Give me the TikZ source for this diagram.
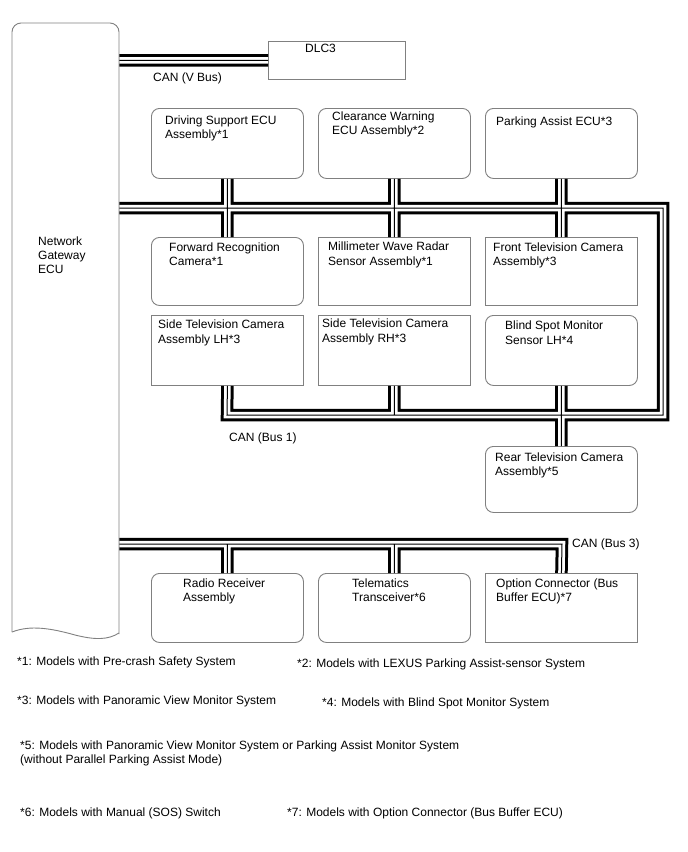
\documentclass[tikz,border=0pt]{standalone}
\usepackage{fontspec}
\setmainfont{Liberation Sans}
\definecolor{boxgray}{HTML}{808080}
\begin{document}
\begin{tikzpicture}[x=1pt,y=-1pt,
  box/.style={draw=boxgray, line width=0.9pt, anchor=north west, inner sep=0pt, minimum width=152pt},
  rbox/.style={box, rounded corners=8pt},
  lbl/.style={anchor=north west, inner sep=0pt, align=left, font=\fontsize{12}{14.5}\selectfont, text=black},
  busA/.style={line width=12.5pt, line join=miter, black},
  busB/.style={line width=6.5pt, line join=miter, white},
  busC/.style={line width=1pt, line join=miter, black}]
\fill[white] (0,0) rectangle (688,852);
\useasboundingbox (0,0) rectangle (688,852);

% gateway
\node[anchor=north west, inner sep=0pt, minimum width=107pt, minimum height=617pt] (gw) at (12,23) {};
\draw[boxgray, line width=0.9pt, rounded corners=9pt] (12,632) -- (12,23) -- (119,23) -- (119,634);
\draw[boxgray, line width=0.9pt] (119,633) .. controls (108,640) and (95,640) .. (75,635)
  .. controls (50,628) and (30,625) .. (12,632);
\node[lbl, font=\fontsize{12}{14}\selectfont] (gwt) at (38,237) {Network\\Gateway\\ECU};

% boxes
\node[box, minimum width=137pt, minimum height=38pt] (dlc) at (268,41) {};
\node[rbox, minimum height=70pt] (ds) at (151,108) {};
\node[rbox, minimum height=70pt] (cw) at (318,108) {};
\node[rbox, minimum height=70pt] (pa) at (485,108) {};
\node[rbox, minimum height=68pt] (fr) at (151,237) {};
\node[box, minimum height=68pt] (mw) at (318,237) {};
\node[box, minimum height=68pt] (ft) at (485,237) {};
\node[box, minimum height=70pt] (sl) at (151,315) {};
\node[box, minimum height=70pt] (sr) at (318,315) {};
\node[rbox, minimum height=70pt] (bs) at (485,315) {};
\node[rbox, minimum height=66pt] (rt) at (485,446) {};
\node[rbox, minimum height=69pt] (rr) at (151,573) {};
\node[rbox, minimum height=69pt] (tm) at (318,573) {};
\node[box, minimum height=69pt] (oc) at (485,573) {};

% bus corner coordinates
\coordinate (b1ne) at (663,208);
\coordinate (b1se) at (663,415);
\coordinate (b1sw) at (227,415);
\coordinate (b3e) at (562,544);

\def\busnet{
  (gw.east |- dlc.west) -- (dlc.west)
  (gw.east |- b1ne) -- (b1ne) -- (b1se) -- (b1sw) -- (sl.south)
  (ds.south) -- (fr.north)
  (cw.south) -- (mw.north)
  (pa.south) -- (ft.north)
  (sr.south) -- (sr.south |- b1se)
  (bs.south) -- (rt.north)
  (gw.east |- b3e) -- (b3e) -- (oc.north)
  (rr.north |- b3e) -- (rr.north)
  (tm.north |- b3e) -- (tm.north)
}
\draw[busA] \busnet;
\draw[busB] \busnet;
\draw[busC] \busnet;

% box texts
\node[lbl] (dlct) at (305,44) {DLC3};
\node[lbl] (dst) at (165,115.5) {Driving Support ECU\\Assembly*1};
\node[lbl] (cwt) at (332,111.5) {Clearance Warning\\ECU Assembly*2};
\node[lbl] (pat) at (496,117) {Parking Assist ECU*3};
\node[lbl] (frt) at (169,242.5) {Forward Recognition\\Camera*1};
\node[lbl] (mwt) at (328,242) {Millimeter Wave Radar\\Sensor Assembly*1};
\node[lbl] (ftt) at (493,242.5) {Front Television Camera\\Assembly*3};
\node[lbl] (slt) at (158,320) {Side Television Camera\\Assembly LH*3};
\node[lbl] (srt) at (322,319) {Side Television Camera\\Assembly RH*3};
\node[lbl] (bst) at (505,321) {Blind Spot Monitor\\Sensor LH*4};
\node[lbl] (rtt) at (495,452.5) {Rear Television Camera\\Assembly*5};
\node[lbl] (rrt) at (183,578.5) {Radio Receiver\\Assembly};
\node[lbl] (tmt) at (352,578.5) {Telematics\\Transceiver*6};
\node[lbl] (oct) at (496,578.5) {Option Connector (Bus\\Buffer ECU)*7};

% bus labels
\node[lbl] (vbl) at (153,72.5) {CAN (V Bus)};
\node[lbl] (b1l) at (229,432.5) {CAN (Bus 1)};
\node[lbl] (b3l) at (572,538.5) {CAN (Bus 3)};

% footnotes
\node[lbl] (f1) at (17,657) {*1: Models with Pre-crash Safety System};
\node[lbl] (f2) at (297,659) {*2: Models with LEXUS Parking Assist-sensor System};
\node[lbl] (f3) at (17,696) {*3: Models with Panoramic View Monitor System};
\node[lbl] (f4) at (322,698) {*4: Models with Blind Spot Monitor System};
\node[lbl, font=\fontsize{12}{14}\selectfont] (f5) at (20,741) {*5: Models with Panoramic View Monitor System or Parking Assist Monitor System\\(without Parallel Parking Assist Mode)};
\node[lbl] (f6) at (20,808) {*6: Models with Manual (SOS) Switch};
\node[lbl] (f7) at (287,808) {*7: Models with Option Connector (Bus Buffer ECU)};
\end{tikzpicture}
\end{document}
